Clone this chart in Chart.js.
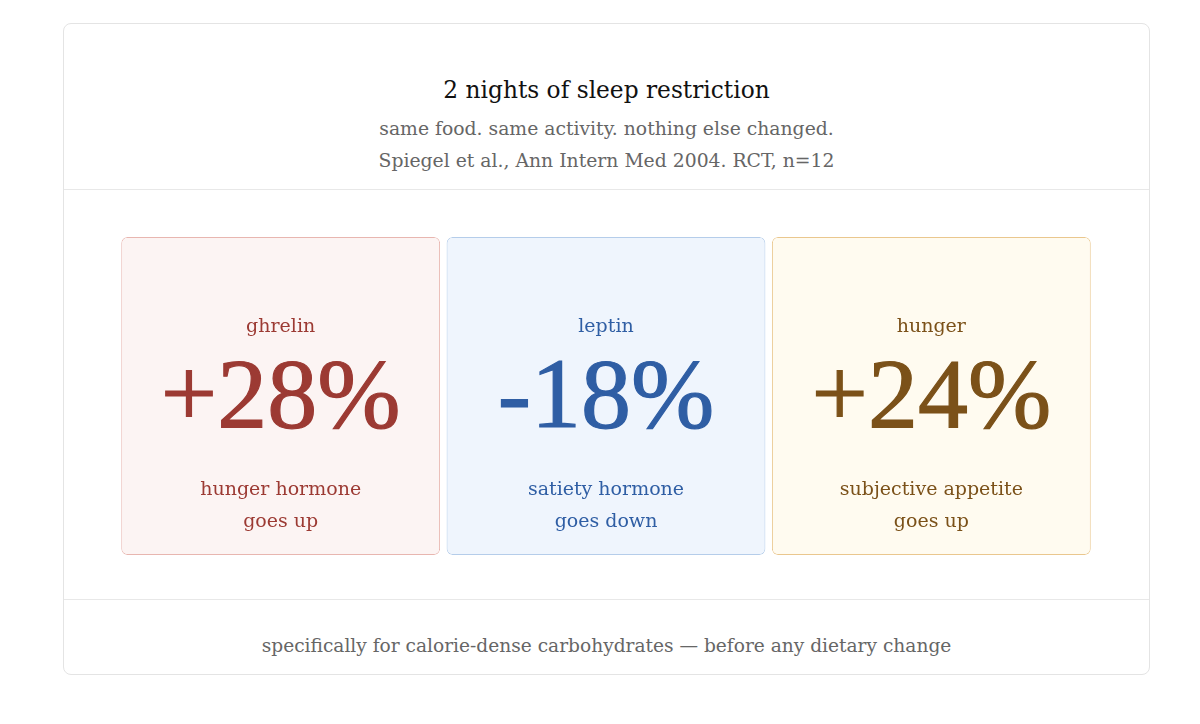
<!DOCTYPE html>
<html>
<head>
<meta charset="utf-8">
<script src="https://cdn.jsdelivr.net/npm/chart.js@4.4.1/dist/chart.umd.min.js"></script>
<style>
  html, body { margin: 0; padding: 0; background: #ffffff; }
  body { width: 1200px; height: 724px; position: relative; overflow: hidden; font-family: "DejaVu Serif", Georgia, serif; }
  #frame { position: absolute; left: 63px; top: 23px; width: 1087px; height: 652px; border: 1px solid #e4e4e4; border-radius: 8px; box-sizing: border-box; }
  .hr { position: absolute; left: 64px; width: 1085px; height: 1px; background: #e8e8e8; }
  .txt { position: absolute; left: 63px; width: 1087px; text-align: center; white-space: nowrap; }
  #title { top: 74px; font-size: 23.3px; line-height: 32px; color: #111; }
  #sub1 { top: 116px; font-size: 18.8px; line-height: 26px; color: #666; }
  #sub2 { top: 148px; font-size: 18.8px; line-height: 26px; color: #666; }
  #foot { top: 633px; font-size: 18.6px; line-height: 26px; color: #666; }
  #wrap { position: absolute; left: 114px; top: 233px; width: 984px; height: 326px; }
</style>
</head>
<body>
<div id="frame"></div>
<div class="hr" style="top:189px"></div>
<div class="hr" style="top:599px"></div>
<div class="txt" id="title"></div>
<div class="txt" id="sub1"></div>
<div class="txt" id="sub2"></div>
<div class="txt" id="foot"></div>
<div id="wrap"><canvas id="c"></canvas></div>
<script>
// ---- data ----
const titleText = "2 nights of sleep restriction";
const subtitleLines = ["same food. same activity. nothing else changed.", "Spiegel et al., Ann Intern Med 2004. RCT, n=12"];
const footnote = "specifically for calorie-dense carbohydrates \u2014 before any dietary change";
const categories = ["ghrelin", "leptin", "hunger"];
const changes = [28, -18, 24];
const descLine1 = ["hunger hormone", "satiety hormone", "subjective appetite"];
const descLine2 = ["goes up", "goes down", "goes up"];
// ---- styles ----
const fills = ["#fcf4f3", "#eff5fd", "#fffbf0"];
const borders = ["#e8b6b0", "#b5cdea", "#eac78e"];
const inks = ["#9c3a33", "#2f5ea4", "#7b5119"];

document.getElementById("title").textContent = titleText;
document.getElementById("sub1").textContent = subtitleLines[0];
document.getElementById("sub2").textContent = subtitleLines[1];
document.getElementById("foot").textContent = footnote;

const fmt = v => (v > 0 ? "+" : "") + v + "%";

const cardText = {
  id: "cardText",
  afterDatasetsDraw(chart) {
    const ctx = chart.ctx;
    const meta = chart.getDatasetMeta(0);
    meta.data.forEach((bar, i) => {
      const top = bar.y;
      const x = bar.x;
      ctx.save();
      ctx.fillStyle = inks[i];
      ctx.strokeStyle = inks[i];
      ctx.textAlign = "center";
      ctx.textBaseline = "alphabetic";
      ctx.font = '19px "DejaVu Serif", serif';
      ctx.fillText(categories[i], x, top + 95);
      ctx.font = '100px "Liberation Serif", serif';
      ctx.lineWidth = 1.2;
      ctx.fillText(fmt(changes[i]), x, top + 190);
      ctx.strokeText(fmt(changes[i]), x, top + 190);
      ctx.font = '19px "DejaVu Serif", serif';
      ctx.fillText(descLine1[i], x, top + 258);
      ctx.fillText(descLine2[i], x, top + 290);
      ctx.restore();
    });
  }
};

new Chart(document.getElementById("c"), {
  type: "bar",
  data: {
    labels: categories,
    datasets: [{
      data: changes.map(() => [0, 1]),
      backgroundColor: fills,
      borderColor: borders,
      borderWidth: 1,
      borderRadius: 6,
      borderSkipped: false,
      barPercentage: 0.98,
      categoryPercentage: 1
    }]
  },
  options: {
    responsive: true,
    maintainAspectRatio: false,
    animation: false,
    layout: { padding: { left: 4, right: 4, top: 4, bottom: 4 } },
    plugins: { legend: { display: false }, tooltip: { enabled: false }, title: { display: false } },
    scales: {
      x: { display: false },
      y: { display: false, min: 0, max: 1 }
    }
  },
  plugins: [cardText]
});
</script>
</body>
</html>
